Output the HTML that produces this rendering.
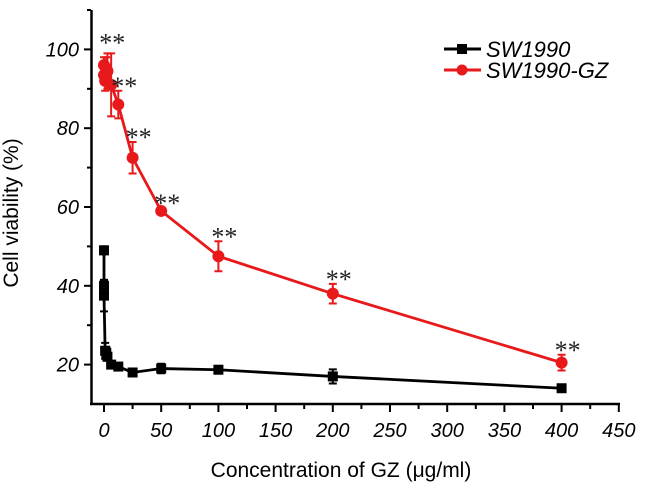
<!DOCTYPE html>
<html><head><meta charset="utf-8"><style>
body{margin:0;background:#fff}
svg text{font-family:"Liberation Sans",sans-serif}
</style></head><body>
<svg id="chart" width="646" height="493" viewBox="0 0 646 493" xmlns="http://www.w3.org/2000/svg"></svg>
<script>
const xTicks=[0,50,100,150,200,250,300,350,400,450];
const yTicks=[20,40,60,80,100];
const blackX=[0,0,0,1,2,3,6.25,12.5,25,50,100,200,400];
const blackY=[49,40,37.5,23.5,23,22,20,19.5,18,19,18.7,17,14];
const blackErr=[1,1.5,4,2,1.5,1,0.8,0.8,0.8,1.2,0.5,1.8,0.5];
const redX=[0,0,1,2,3,6.25,12.5,25,50,100,200,400];
const redY=[96,93.5,92,95,94.5,91,86,72.5,59,47.5,38,20.5];
const redErr=[2,2,2.5,3,4.5,8,3.5,4,0.8,3.8,2.5,2];
const starX=[2,12.5,25,50,100,200,400];
const starVal=[100.5,89.5,76.5,59.8,51.3,40.5,22.5];

const NS="http://www.w3.org/2000/svg";
const svg=document.getElementById('chart');
const X=v=>104+v*57.2/50;
const Y=v=>10+(110-v)*3.94;
function mk(t,a,parent){const e=document.createElementNS(NS,t);for(const k in a)e.setAttribute(k,a[k]);(parent||svg).appendChild(e);return e;}

let e;
e=mk('line',{x1:91.5,y1:10,x2:91.5,y2:405,stroke:'#000','stroke-width':2.5});


e=mk('line',{x1:90,y1:404,x2:620,y2:404,stroke:'#000','stroke-width':2.5});


for(let v=20;v<=110;v+=10){
  const t=mk('line',{x1:v%20===0?84:87,y1:Y(v),x2:91,y2:Y(v),stroke:'#000','stroke-width':2});
  
  
}
for(let v=0;v<=450;v+=25){
  const t=mk('line',{x1:X(v),y1:405,x2:X(v),y2:v%50===0?412:409,stroke:'#000','stroke-width':2});
  
  
}
yTicks.forEach(v=>{
  const t=mk('text',{x:79,y:Y(v)+7,'text-anchor':'end','font-size':20,'font-style':'italic'});
  t.textContent=v;
  
  
});
xTicks.forEach(v=>{
  const t=mk('text',{x:X(v),y:437,'text-anchor':'middle','font-size':20,'font-style':'italic'});
  t.textContent=v;
  
  
});
e=mk('text',{x:18,y:213,'text-anchor':'middle','font-size':21,transform:'rotate(-90 18 213)'});
e.textContent='Cell viability (%)';


e=mk('text',{x:341,y:477,'text-anchor':'middle','font-size':21});
e.textContent='Concentration of GZ (μg/ml)';



function series(xs,ys,errs,color,shape,name){
  const g=mk('g',{});
  
  
  const pts=xs.map((x,i)=>X(x)+','+Y(ys[i])).join(' ');
  mk('polyline',{points:pts,fill:'none',stroke:color,'stroke-width':2.8},g);
  xs.forEach((x,i)=>{
    const cx=X(x),cy=Y(ys[i]),t=Y(ys[i]+errs[i]),b=Y(ys[i]-errs[i]);
    const eb=mk('path',{d:`M${cx},${t}V${b}M${cx-4},${t}H${cx+4}M${cx-4},${b}H${cx+4}`,stroke:color,'stroke-width':2,fill:'none'},g);
    
    
    let m;
    if(shape==='sq') m=mk('rect',{x:cx-5,y:cy-5,width:10,height:10,fill:color},g);
    else m=mk('circle',{cx:cx,cy:cy,r:6,fill:color},g);
    
    
  });
}
series(blackX,blackY,blackErr,'#000','sq','series-sw1990');
series(redX,redY,redErr,'#e8191b','ci','series-sw1990-gz');

starX.forEach((x,i)=>{
  const t=mk('text',{x:X(x)+6,y:Y(starVal[i])+4,'text-anchor':'middle',fill:'#222',style:'font-family:"Liberation Serif",serif;font-size:26px'});
  t.textContent='**';
  
  
});

const lg=mk('g',{});


[['#000','sq','SW1990',49],['#e8191b','ci','SW1990-GZ',70]].forEach(d=>{
  const it=mk('g',{},lg);
  
  
  mk('line',{x1:444,y1:d[3],x2:481,y2:d[3],stroke:d[0],'stroke-width':3},it);
  if(d[1]==='sq') mk('rect',{x:457,y:d[3]-5,width:10,height:10,fill:d[0]},it);
  else mk('circle',{cx:462,cy:d[3],r:5.5,fill:d[0]},it);
  const t=mk('text',{x:486,y:d[3]+8,'font-size':22,'font-style':'italic'},it);
  t.textContent=d[2];
});
</script>
</body></html>
